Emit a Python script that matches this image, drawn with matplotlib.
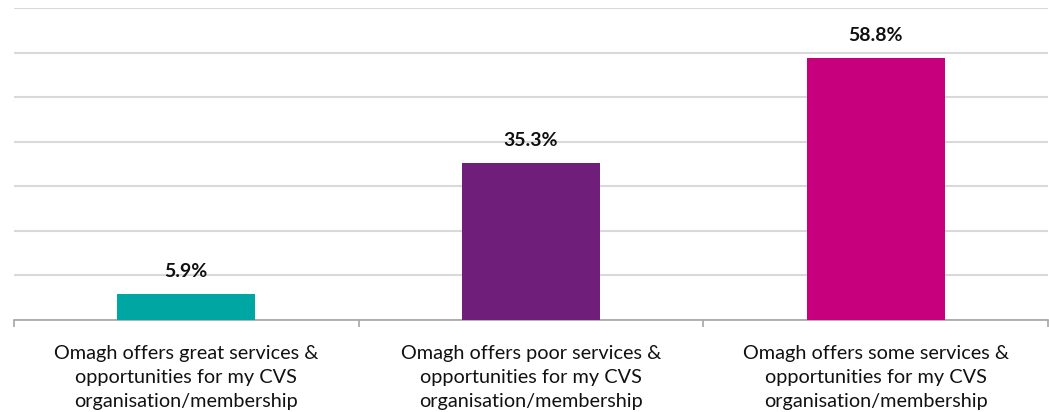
import matplotlib
matplotlib.use("Agg")
import matplotlib.pyplot as plt
import numpy as np

categories = [
    "Omagh offers great services &\nopportunities for my CVS\norganisation/membership",
    "Omagh offers poor services &\nopportunities for my CVS\norganisation/membership",
    "Omagh offers some services &\nopportunities for my CVS\norganisation/membership",
]
values = [5.9, 35.3, 58.8]
colors = ["#00A6A1", "#6F1F7A", "#C7007D"]

plt.rcParams["font.family"] = ["Lato", "DejaVu Sans"]

fig = plt.figure(figsize=(10.49, 4.12), dpi=100)
ax = fig.add_axes([14 / 1049, 1 - 320 / 412, (1048 - 14) / 1049, (320 - 8) / 412])

x = np.arange(len(categories))
ax.bar(x, values, width=0.4, color=colors, zorder=3)

for xi, v in zip(x, values):
    ax.annotate(f"{v:.1f}%", (xi, v), xytext=(0, 10), textcoords="offset points",
                ha="center", va="bottom", fontsize=14, fontweight="bold", color="#111111")

ax.set_xlim(-0.5, len(categories) - 0.5)
ax.set_ylim(0, 70)
ax.set_yticks(np.arange(0, 71, 10))
ax.yaxis.grid(True, color="#D9D9D9", linewidth=1.5, zorder=0)
ax.tick_params(axis="y", left=False, labelleft=False)

for s in ["top", "right", "left"]:
    ax.spines[s].set_visible(False)
ax.spines["bottom"].set_color("#A6A6A6")
ax.spines["bottom"].set_linewidth(1.2)

ax.set_xticks(x)
ax.set_xticklabels(categories, fontsize=14.3, color="#111111", linespacing=1.49)
ax.tick_params(axis="x", length=0, pad=18)
ax.set_xticks(np.arange(-0.5, len(categories), 1), minor=True)
ax.tick_params(axis="x", which="minor", length=5, color="#A6A6A6", width=1.2)

fig.savefig("out.png", dpi=100)
